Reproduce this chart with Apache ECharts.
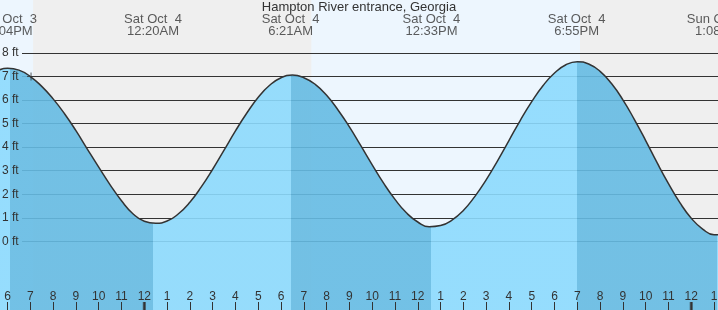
<!DOCTYPE html>
<html><head><meta charset="utf-8">
<script src="https://cdn.jsdelivr.net/npm/echarts@6/dist/echarts.min.js"></script>
<style>html,body{margin:0;padding:0;background:#edf6fe;overflow:hidden}#c{width:718px;height:310px}</style>
</head><body><div id="c"></div>
<script>
// ---- data (hours are measured from midnight that starts Sat Oct 4) ----
const chartTitle = 'Hampton River entrance, Georgia';
const tideHours = [-5.88, 0.38, 6.42, 12.6, 18.97, 25.15];
const tideDays  = ['Fri Oct  3', 'Sat Oct  4', 'Sat Oct  4', 'Sat Oct  4', 'Sat Oct  4', 'Sun Oct  5'];
const tideClock = ['6:04PM', '12:20AM', '6:21AM', '12:33PM', '6:55PM', '1:08AM'];
const curveHours = [-7, -6.5, -6, -5.5, -5, -4.5, -4, -3.5, -3, -2.5, -2, -1.5, -1, -0.5,
                    0, 0.5, 1, 1.5, 2, 2.5, 3, 3.5, 4, 4.5, 5, 5.5, 6, 6.5,
                    7, 7.5, 8, 8.5, 9, 9.5, 10, 10.5, 11, 11.5, 12, 12.5,
                    13, 13.5, 14, 14.5, 15, 15.5, 16, 16.5, 17, 17.5, 18, 18.5,
                    19, 19.5, 20, 20.5, 21, 21.5, 22, 22.5, 23, 23.5, 24, 24.5,
                    25, 25.5, 26];
const curveFeet  = [6.90, 7.22, 7.35, 7.27, 7.00, 6.58, 6.05, 5.42, 4.70, 3.92, 3.15, 2.40, 1.72, 1.17,
                    0.85, 0.77, 0.86, 1.17, 1.66, 2.31, 3.06, 3.87, 4.69, 5.45, 6.12, 6.63, 6.95, 7.06,
                    6.95, 6.67, 6.20, 5.58, 4.86, 4.06, 3.25, 2.47, 1.78, 1.21, 0.82, 0.62,
                    0.67, 0.90, 1.31, 1.90, 2.61, 3.42, 4.28, 5.14, 5.93, 6.62, 7.15, 7.50,
                    7.63, 7.53, 7.22, 6.70, 6.01, 5.18, 4.28, 3.34, 2.45, 1.64, 0.98, 0.52,
                    0.28, 0.30, 0.55];
const nightStart = [-4.88, 19.12];
const nightEnd   = [7.33, 26];
const nowHour = -4.97, nowFeet = 7.0;
const midnightHours = [0, 24];
const feetMin = 0, feetMax = 8;

// ---- layout / style constants ----
const PX_H = 22.79, X_MID = 144.3;          // px per hour, px of midnight
const FT0_Y = 241.3, PX_FT = 23.54;         // px of 0 ft, px per foot
const W = 718, H = 310;
const xMin = -7, xMax = 26;
const yMin = -(H - FT0_Y) / PX_FT, yMax = FT0_Y / PX_FT;
const labelFt = (FT0_Y - 25) / PX_FT;
const DARK = 'rgb(101,187,227)', LIGHT = 'rgb(140,218,253)';
const TXT = '#333';
const FONT = "'Liberation Sans', Arial, sans-serif";

const curve = curveHours.map((h, i) => [h, curveFeet[i]]);
const pieces = [{lt: tideHours[0], color: LIGHT}];
for (let i = 0; i < tideHours.length - 1; i++) {
  pieces.push({gte: tideHours[i], lt: tideHours[i + 1], color: i % 2 === 0 ? DARK : LIGHT});
}
pieces.push({gte: tideHours[tideHours.length - 1], color: LIGHT});

const chart = echarts.init(document.getElementById('c'));
chart.setOption({
  animation: false,
  backgroundColor: '#edf6fe',
  textStyle: {fontFamily: FONT},
  title: {text: chartTitle, left: 'center', top: 1, padding: 0,
          textStyle: {fontSize: 13, fontWeight: 'normal', color: TXT, fontFamily: FONT}},
  grid: [
    {left: X_MID + xMin * PX_H, right: W - (X_MID + xMax * PX_H), top: 0, bottom: 0,
     outerBoundsMode: 'none', containLabel: false},
    {left: 22, right: 0, top: FT0_Y - feetMax * PX_FT, bottom: H - FT0_Y,
     outerBoundsMode: 'none', containLabel: false}
  ],
  xAxis: [
    {type: 'value', gridIndex: 0, min: xMin, max: xMax, interval: 1, z: 5,
     axisLine: {show: false, onZero: false}, splitLine: {show: false},
     axisTick: {inside: true, length: 8, lineStyle: {color: TXT}},
     axisLabel: {inside: true, margin: 7, fontSize: 12, color: TXT, fontFamily: FONT,
                 formatter: v => { const h = ((v % 12) + 12) % 12; return h === 0 ? '12' : String(h); }}},
    {type: 'value', gridIndex: 1, show: false, min: 0, max: 1, axisLine: {onZero: false}}
  ],
  yAxis: [
    {type: 'value', gridIndex: 0, position: 'left', min: yMin, max: yMax, show: false,
     axisLine: {onZero: false}},
    {type: 'value', gridIndex: 1, position: 'left', min: feetMin, max: feetMax, interval: 1, z: 1,
     axisLine: {show: false, onZero: false}, axisTick: {show: false}, axisLabel: {show: false},
     splitLine: {show: true, lineStyle: {color: TXT, width: 1}}},
    {type: 'value', gridIndex: 1, position: 'left', offset: 0, min: feetMin, max: feetMax,
     interval: 1, z: 10,
     axisLine: {show: false, onZero: false}, axisTick: {show: false}, splitLine: {show: false},
     axisLabel: {align: 'left', margin: 20, fontSize: 12, color: TXT, fontFamily: FONT,
                 formatter: '{value} ft'}}
  ],
  visualMap: {type: 'piecewise', show: false, dimension: 0, seriesIndex: 1, pieces: pieces},
  series: [
    {type: 'line', xAxisIndex: 0, yAxisIndex: 0, z: -2, silent: true, symbol: 'none',
     data: [[nightStart[0], 0]], lineStyle: {width: 0},
     markArea: {silent: true, z: -1, itemStyle: {color: '#efefef'},
                data: nightStart.map((s, i) => [{xAxis: s}, {xAxis: nightEnd[i]}])}},
    {type: 'line', xAxisIndex: 0, yAxisIndex: 0, z: 2, smooth: true,
     showSymbol: false, symbol: 'none',
     data: curve, lineStyle: {width: 0}, areaStyle: {opacity: 0.9, origin: 'start'}},
    {type: 'line', xAxisIndex: 0, yAxisIndex: 0, z: 3, smooth: true,
     showSymbol: false, symbol: 'none',
     data: curve, lineStyle: {color: TXT, width: 1.5}},
    {type: 'scatter', xAxisIndex: 0, yAxisIndex: 0, z: 4, symbol: 'path://M0,5L10,5M5,0L5,10',
     symbolSize: 8, data: [[nowHour, nowFeet]],
     itemStyle: {color: 'none', borderColor: TXT, borderWidth: 1}},
    {type: 'scatter', xAxisIndex: 0, yAxisIndex: 0, z: 6, symbol: 'rect', symbolSize: [3, 8],
     symbolOffset: [0, -4], data: midnightHours.map(h => [h, yMin]), itemStyle: {color: TXT}},
    {type: 'scatter', xAxisIndex: 0, yAxisIndex: 0, z: 4, symbolSize: 0,
     data: tideHours.map(h => [h, labelFt]),
     label: {show: true, position: 'inside', fontSize: 13, lineHeight: 12, color: TXT, fontFamily: FONT,
             formatter: p => tideDays[p.dataIndex] + '\n' + tideClock[p.dataIndex]}}
  ]
});
</script></body></html>
